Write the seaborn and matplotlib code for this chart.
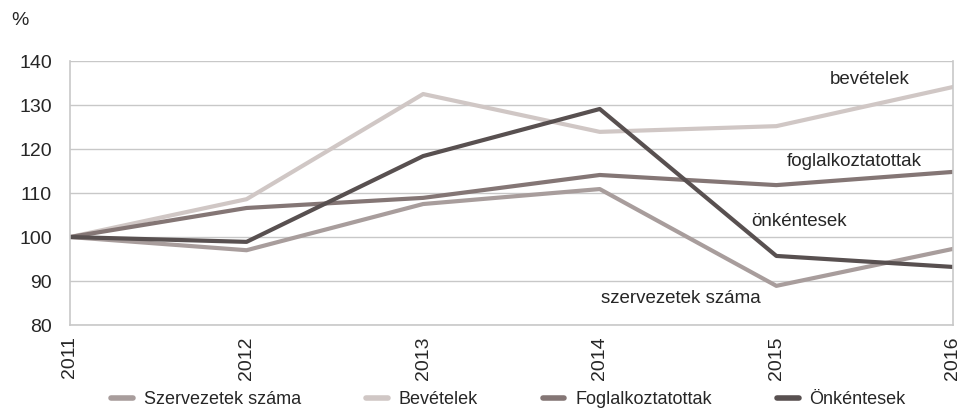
import matplotlib
matplotlib.use("Agg")
import matplotlib.pyplot as plt
import seaborn as sns
import pandas as pd
from matplotlib import font_manager

years = [2011, 2012, 2013, 2014, 2015, 2016]
szervezetek = [100, 97.0, 107.5, 110.9, 88.9, 97.3]
bevetelek = [100, 108.6, 132.5, 123.9, 125.2, 134.1]
foglalkoztatottak = [100, 106.6, 108.9, 114.1, 111.8, 114.8]
onkentesek = [100, 98.9, 118.4, 129.1, 95.7, 93.2]

series_names = ["Szervezetek száma", "Bevételek", "Foglalkoztatottak", "Önkéntesek"]
colors = ["#a89d9c", "#d0c7c5", "#847675", "#585050"]
y_ticks = [80, 90, 100, 110, 120, 130, 140]

sns.set_theme(style="white")
available = {f.name for f in font_manager.fontManager.ttflist}
family = "Liberation Sans Narrow" if "Liberation Sans Narrow" in available else "Liberation Sans"
plt.rcParams["font.family"] = [family, "DejaVu Sans"]

df = pd.DataFrame({
    "year": years * 4,
    "value": szervezetek + bevetelek + foglalkoztatottak + onkentesek,
    "series": sum([[n] * len(years) for n in series_names], []),
})

fig = plt.figure(figsize=(9.65, 4.08), dpi=100)
ax = fig.add_axes([0.0725, 0.2034, 0.915, 0.647])

sns.lineplot(data=df, x="year", y="value", hue="series", hue_order=series_names,
             palette=colors, linewidth=3, ax=ax, legend=False)

ax.set_xlim(2011, 2016)
ax.set_ylim(80, 140)
ax.set_yticks(y_ticks)
ax.set_xticks(years)
ax.set_xticklabels([str(y) for y in years], rotation=90, fontsize=14)
ax.tick_params(axis="y", labelsize=14, length=7, color="#bdbdbd", pad=6)
ax.tick_params(axis="x", length=6, color="#bdbdbd", direction="inout", pad=5)
ax.set_xlabel("")
ax.set_ylabel("")
ax.grid(axis="y", color="#c8c8c8", linewidth=1)
ax.set_axisbelow(True)
for side in ["left", "right", "bottom"]:
    ax.spines[side].set_color("#c8c8c8")
    ax.spines[side].set_linewidth(1.2)
ax.spines["top"].set_visible(False)

fig.text(0.012, 0.95, "%", fontsize=14, ha="left", va="center")

labels = [("bevételek", 2015.53, 135.8), ("foglalkoztatottak", 2015.44, 117.2),
          ("önkéntesek", 2015.13, 103.5), ("szervezetek száma", 2014.46, 86.0)]
for txt, x, y in labels:
    ax.text(x, y, txt, fontsize=13.5, ha="center", va="center")

handles = [plt.Line2D([0], [0], color=c, linewidth=4) for c in colors]
fig.legend(handles, series_names, loc="center", bbox_to_anchor=(0.527, 0.02),
           ncol=4, frameon=False, fontsize=13, handlelength=1.2,
           columnspacing=3.6, handletextpad=0.6)

fig.savefig("out.png", dpi=100)
